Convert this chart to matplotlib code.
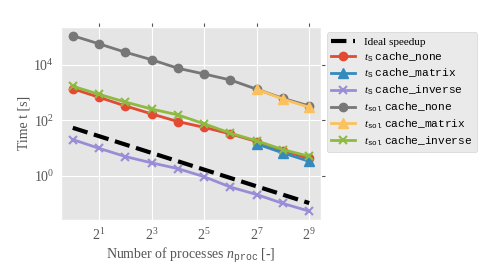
import numpy as np
import matplotlib
matplotlib.use('Agg')
import matplotlib.pyplot as plt
from matplotlib.ticker import LogFormatterSciNotation, NullLocator

plt.style.use('ggplot')
plt.rcParams['font.family'] = 'serif'
plt.rcParams['font.serif'] = ['Liberation Serif', 'DejaVu Serif']
plt.rcParams['mathtext.fontset'] = 'custom'
plt.rcParams['mathtext.rm'] = 'Liberation Serif'
plt.rcParams['mathtext.it'] = 'Liberation Serif:italic'
plt.rcParams['mathtext.tt'] = 'Liberation Mono'

nproc = [1, 2, 4, 8, 16, 32, 64, 128, 256, 512]
nproc_big = [128, 256, 512]

ideal = [53 / n for n in nproc]
ts_none = [1350, 665, 325, 168, 89, 55, 32, 17, 8.0, 4.2]
ts_matrix = [14, 6.6, 3.3]
ts_inverse = [20, 9.7, 4.9, 2.9, 1.8, 0.92, 0.39, 0.21, 0.10, 0.053]
tsol_none = [110000, 56000, 28000, 15000, 7400, 4600, 2800, 1300, 610, 325]
tsol_matrix = [1300, 575, 290]
tsol_inverse = [1670, 850, 450, 252, 155, 74, 34, 18, 8.7, 5.0]

fig = plt.figure(figsize=(5.04, 2.64), dpi=100)
ax = fig.add_axes([0.121, 0.167, 0.516, 0.731])

ax.plot(nproc, ideal, 'k--', lw=3, label='Ideal speedup')
ax.plot(nproc, ts_none, '-o', lw=2, ms=6, color='#E24A33',
        label=r'$t_{\mathtt{S}}$ $\mathtt{cache\_none}$')
ax.plot(nproc_big, ts_matrix, '-^', lw=2, ms=7, color='#348ABD',
        label=r'$t_{\mathtt{S}}$ $\mathtt{cache\_matrix}$')
ax.plot(nproc, ts_inverse, '-x', lw=2, ms=6, mew=1.5, color='#988ED5',
        label=r'$t_{\mathtt{S}}$ $\mathtt{cache\_inverse}$')
ax.plot(nproc, tsol_none, '-o', lw=2, ms=6, color='#777777',
        label=r'$t_{\mathtt{sol}}$ $\mathtt{cache\_none}$')
ax.plot(nproc_big, tsol_matrix, '-^', lw=2, ms=7, color='#FBC15E',
        label=r'$t_{\mathtt{sol}}$ $\mathtt{cache\_matrix}$')
ax.plot(nproc, tsol_inverse, '-x', lw=2, ms=6, mew=1.5, color='#8EBA42',
        label=r'$t_{\mathtt{sol}}$ $\mathtt{cache\_inverse}$')

ax.set_xscale('log', base=2)
ax.set_yscale('log')
ax.set_xticks([2, 8, 32, 128, 512])
ax.xaxis.set_major_formatter(LogFormatterSciNotation(base=2))
ax.set_yticks([1, 1e2, 1e4])
ax.xaxis.set_minor_locator(NullLocator())
ax.yaxis.set_minor_locator(NullLocator())
ax.tick_params(axis='both', labelsize=10, colors='#555555', length=3, pad=2)
ax.tick_params(axis='x', bottom=False, top=True, labelbottom=True)
ax.tick_params(axis='y', left=False, right=True, labelleft=True)

ax.set_xlabel(r'Number of processes $n_{\mathtt{proc}}$ [-]', fontsize=10,
              color='#555555', labelpad=2)
ax.set_ylabel('Time t [s]', fontsize=10, color='#555555', labelpad=2)

ax.legend(loc='upper left', bbox_to_anchor=(1.0, 1.0), fontsize=8,
          labelspacing=0.3, handlelength=2.2)

fig.savefig('out.png', dpi=100)
